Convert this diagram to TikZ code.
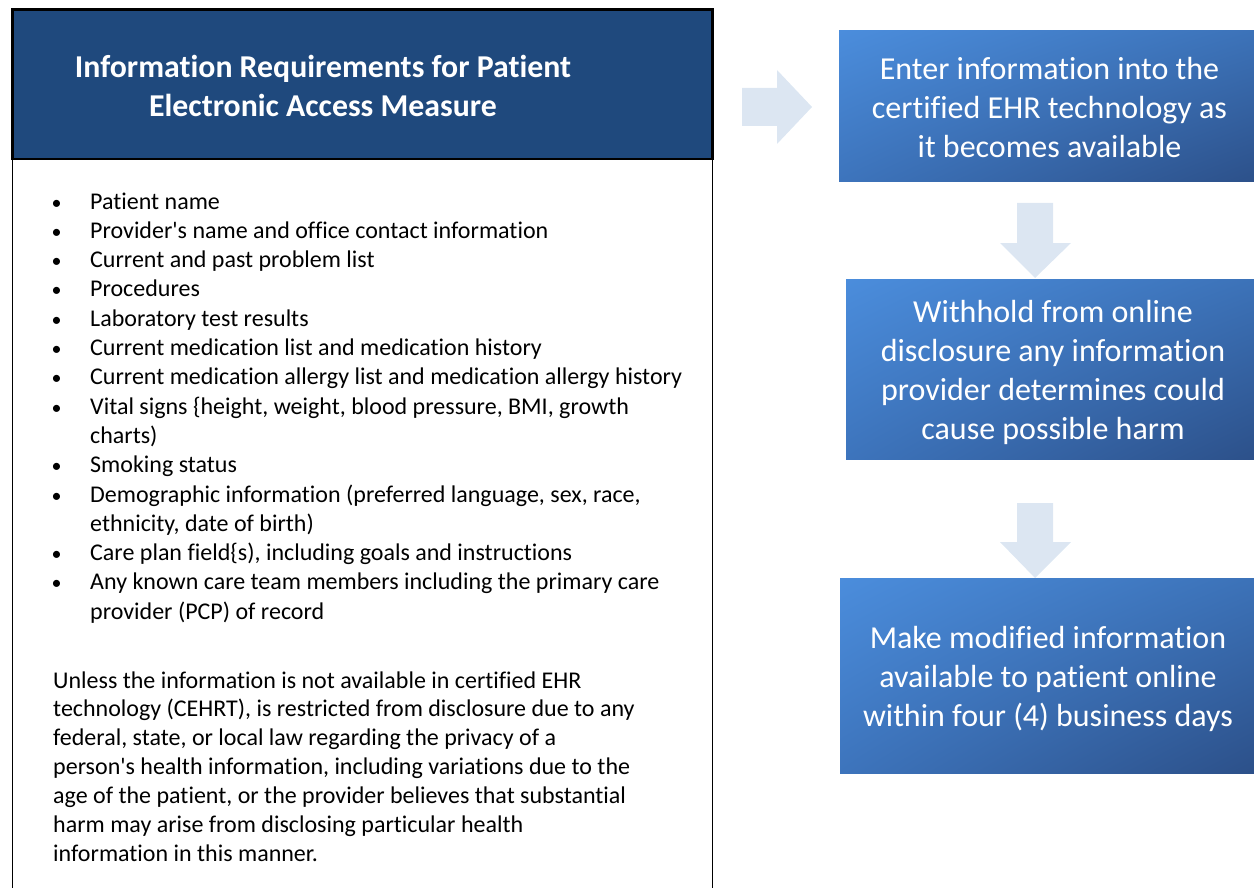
\documentclass[tikz,border=0pt]{standalone}
\usepackage{fontspec}
\setmainfont{Carlito}[Ligatures={TeXOff,NoCommon}]
\usetikzlibrary{shadings}
\definecolor{hdrblue}{HTML}{1F497D}
\definecolor{arrowfill}{HTML}{DCE6F2}
\definecolor{cul}{HTML}{4B8DDC}
\definecolor{cur}{HTML}{3C72B8}
\definecolor{cll}{HTML}{3D74BC}
\definecolor{clr}{HTML}{2C5089}
\begin{document}
\begin{tikzpicture}[x=1pt,y=-1pt,
  hdrbox/.style={draw=black,line width=2.8pt,fill=hdrblue,inner sep=0pt,outer sep=0pt},
  hdrtext/.style={text=white,font=\bfseries\fontsize{31.8}{39}\selectfont,align=center,inner sep=0pt},
  item/.style={anchor=base west,inner sep=0pt,font=\fontsize{24}{29}\selectfont},
  bul/.style={anchor=base,inner sep=0pt,font=\fontsize{20}{29}\selectfont},
  stepbox/.style={shade,upper left=cul,upper right=cur,lower left=cll,lower right=clr,
    inner sep=0pt,outer sep=0pt},
  steptext/.style={inner sep=0pt,text=white,align=center,font=\fontsize{32}{39}\selectfont},
  blockarrow/.style={fill=arrowfill,draw=none}]
\useasboundingbox (0,0) rectangle (1254,888);
% left panel
\draw[line width=1.5pt] (12.5,159) -- (12.5,892);
\draw[line width=1.5pt] (712.3,159) -- (712.3,892);
\node[hdrbox,minimum width=699.8pt,minimum height=149.5pt,anchor=north west] (hdr) at (12.5,9.5) {};
\node[hdrtext] (title) at (323,86) {Information Requirements for Patient\\Electronic Access Measure};
% bullet list
\foreach \n/\txt in {0/{Patient name},1/{Provider's name and office contact information},2/{Current and past problem list},3/{Procedures},4/{Laboratory test results},5/{Current medication list and medication history},6/{Current medication allergy list and medication allergy history},7/{Vital signs \{height, weight, blood pressure, BMI, growth},9/{Smoking status},10/{Demographic information (preferred language, sex, race,},12/{Care plan field\{s), including goals and instructions},13/{Any known care team members including the primary care}}{
  \node[bul] (b\n) at (56.7,209+\n*29.3) {\textbullet};
  \node[item] (t\n) at (90,209+\n*29.3) {\txt};
}
\foreach \n/\txt in {8/{charts)},11/{ethnicity, date of birth)},14/{provider (PCP) of record}}{
  \node[item] (t\n) at (90,209+\n*29.3) {\txt};
}
% paragraph
\foreach \n/\txt in {0/{Unless the information is not available in certified EHR},1/{technology (CEHRT), is restricted from disclosure due to any},2/{federal, state, or local law regarding the privacy of a},3/{person's health information, including variations due to the},4/{age of the patient, or the provider believes that substantial},5/{harm may arise from disclosing particular health},6/{information in this manner.}}{
  \node[item] (p\n) at (53,688+\n*28.95) {\txt};
}
% right column boxes
\node[stepbox,minimum width=421pt,minimum height=151pt,anchor=north west] (s1) at (839,31) {};
\node[steptext] (s1t) at ([yshift=-1pt]s1.center)
  {Enter information into the\\certified EHR technology as\\it becomes available};
\node[stepbox,minimum width=414pt,minimum height=180pt,anchor=north west] (s2) at (846,279) {};
\node[steptext] (s2t) at ([yshift=-3.5pt]s2.center)
  {Withhold from online\\disclosure any information\\provider determines could\\cause possible harm};
\node[stepbox,minimum width=416pt,minimum height=195pt,anchor=north west] (s3) at (840,578) {};
\node[steptext] (s3t) at ([yshift=-3pt]s3.center)
  {Make modified information\\available to patient online\\within four (4) business days};
% block arrows
\fill[blockarrow] (742,88) -- (777,88) -- (777,70) -- (812,107) -- (777,144) -- (777,126) -- (742,126) -- cycle;
\fill[blockarrow] (1017,203) -- (1053,203) -- (1053,243) -- (1071,243) -- (1035,278) -- (1000,243) -- (1017,243) -- cycle;
\fill[blockarrow] (1017,503) -- (1053,503) -- (1053,542) -- (1071,542) -- (1035,578) -- (1000,542) -- (1017,542) -- cycle;
\end{tikzpicture}
\end{document}
